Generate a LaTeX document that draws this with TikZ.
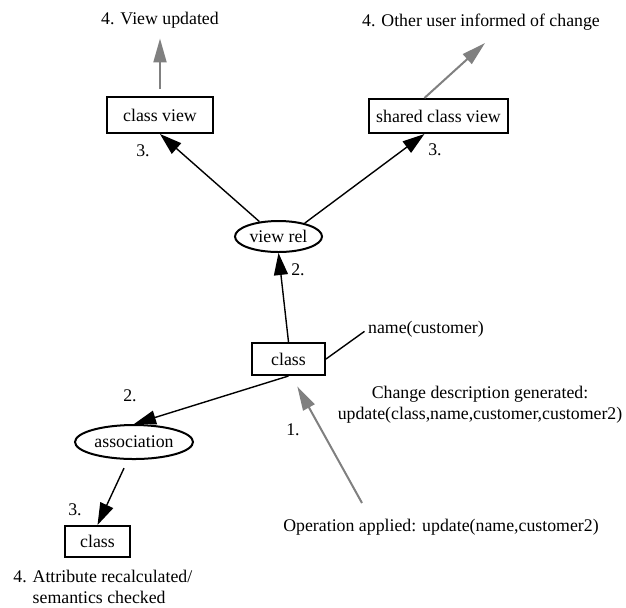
\documentclass[tikz,border=0pt]{standalone}
\usepackage{fontspec}
\setmainfont{Liberation Serif}
\usetikzlibrary{
    arrows.meta,
    shapes.geometric
}

\begin{document}
\begin{tikzpicture}[
    x=0.5pt, y=-0.5pt,
    font=\fontsize{8.9}{10.5}\selectfont,
    cbox/.style={
        rectangle, draw=black, line width=1pt,
        minimum height=17pt, inner sep=0pt
    },
    relbox/.style={
        ellipse, draw=black, line width=1pt, inner sep=0pt
    },
    note/.style={inner sep=0pt, align=center},
    arr/.style={-{Triangle[length=11pt,width=7pt]}, line width=0.7pt},
    grayarr/.style={-{Triangle[length=12pt,width=6.5pt]}, line width=1pt, draw=black!50}
]
\useasboundingbox (0,0) rectangle (626,607);

% Views
\node[cbox, minimum width=53pt, minimum height=18pt] (cview) at (160,115) {class view};
\node[cbox, minimum width=69.5pt] (sview) at (438.5,116) {shared class view};
\node[relbox, minimum width=43.5pt, minimum height=15.5pt] (vrel) at (278.5,236.5) {view rel};

% Model elements
\node[cbox, minimum width=36.5pt, minimum height=16pt] (cls) at (288.5,359) {class};
\node[relbox, minimum width=59pt, minimum height=17pt] (assoc) at (134,442) {association};
\node[cbox, minimum width=32.5pt, minimum height=15.5pt] (acls) at (97.5,541.5) {class};

% Annotations
\node[note] (vupd) at (160,20) {4. View updated};
\node[note] (ouser) at (481,22) {4. Other user informed of change};
\node[note] (cname) at (426,329) {name(customer)};
\node[note] (cdesc) at (480,405)
    {Change description generated:\\update(class,name,customer,customer2)};
\node[note] (opapp) at (441,527) {Operation applied: update(name,customer2)};
\node[note, align=left, anchor=west] (recalc) at (13,587)
    {4. Attribute recalculated/\\\hphantom{4. }semantics checked};

% Step numbers
\node[note] (n3a) at (143,151) {3.};
\node[note] (n3b) at (435,150) {3.};
\node[note] (n2a) at (298,270) {2.};
\node[note] (n2b) at (130,396) {2.};
\node[note] (n1) at (293,430) {1.};
\node[note] (n3c) at (75,510) {3.};

\coordinate (optail) at (362,503);
\coordinate (usertip) at (485,43);

% Propagation
\draw[arr] (vrel.142) -- (cview.south);
\draw[arr] (vrel.27) -- (sview.-128);
\draw[arr] (cls.north) -- (vrel.south);
\draw[arr] (cls.south) -- (assoc.north);
\draw[arr, shorten <=4.5pt] (assoc.-109) -- (acls.north);
\draw[line width=0.7pt, shorten >=2pt] (cls.east) -- (cname.west);

% Outside events
\draw[grayarr, shorten <=3.5pt, shorten >=5pt] (cview.north) -- (vupd.south);
\draw[grayarr] (sview.128) -- (usertip);
\draw[grayarr, shorten >=6pt] (optail) -- (cls.-80);

\end{tikzpicture}
\end{document}
